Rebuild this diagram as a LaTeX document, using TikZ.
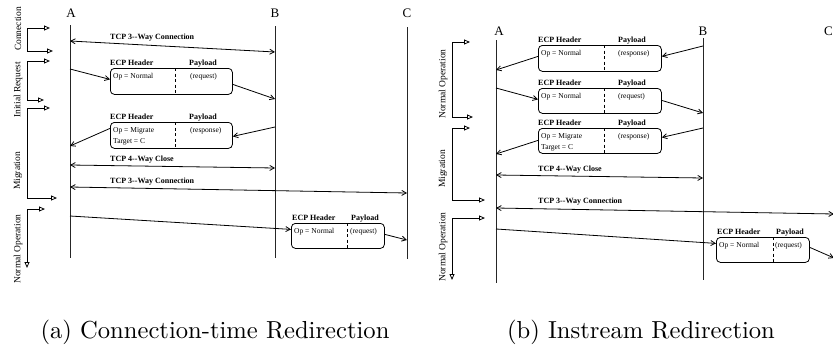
\documentclass[tikz,border=0pt]{standalone}
\usepackage{fontspec}
\newfontfamily\tms{Liberation Serif}
\usetikzlibrary{arrows.meta,calc}
\begin{document}
\begin{tikzpicture}[x=1pt,y=-1pt,
  life/.style={line width=0.9pt, black!85},
  msg/.style={line width=0.8pt, -{Straight Barb[length=4.5pt,width=5pt]}},
  dmsg/.style={line width=0.8pt, {Straight Barb[length=4.5pt,width=5pt]}-{Straight Barb[length=4.5pt,width=5pt]}},
  phase/.style={line width=0.8pt, {Triangle[open,length=6pt,width=5pt]}-{Triangle[open,length=6pt,width=5pt]}},
  ecp/.style={draw, line width=0.8pt, rounded corners=4pt, inner sep=0pt, anchor=north west},
  hdr/.style={font=\tms\fontsize{8}{9}\selectfont\bfseries, inner sep=0pt, anchor=base west},
  btxt/.style={font=\tms\fontsize{7.5}{11}\selectfont, inner sep=0pt, anchor=north west, align=left},
  plabel/.style={font=\tms\fontsize{9.5}{11}\selectfont, rotate=90, inner sep=0pt},
  lname/.style={font=\tms\fontsize{13}{14}\selectfont, inner sep=0pt},
  tcp/.style={font=\tms\fontsize{8}{9}\selectfont\bfseries, inner sep=0pt, anchor=base west},
  captxt/.style={scale=2.46, inner sep=0pt},
  divider/.style={dash pattern=on 3pt off 2.5pt, line width=0.8pt}]

\useasboundingbox (0,0) rectangle (833,348);

% ================= (a) =================
\node[lname] (nA) at (71,13) {A};
\node[lname] (nB) at (275,13) {B};
\node[lname] (nC) at (407,13) {C};
\coordinate (Atop) at (70,25); \coordinate (Abot) at (70,258);
\coordinate (Btop) at (275,26); \coordinate (Bbot) at (275,258);
\coordinate (Ctop) at (407,27); \coordinate (Cbot) at (407,259);
\draw[life] (Atop) -- (Abot);
\draw[life] (Btop) -- (Bbot);
\draw[life] (Ctop) -- (Cbot);

% TCP 3-way
\coordinate (ac1s) at (70,41); \coordinate (ac1e) at (275,52);
\draw[dmsg] (ac1s) -- (ac1e);
\node[tcp] (tac1) at (110,39.5) {TCP 3--Way Connection};

% box 1
\node[ecp, minimum width=122pt, minimum height=26pt] (a1) at (110,68) {};
\draw[divider] ([xshift=65pt]a1.north west) -- ([xshift=65pt]a1.south west);
\node[hdr] (a1h) at ([yshift=3pt]a1.north west) {ECP Header};
\node[hdr] (a1p) at ([shift={(79pt,3pt)}]a1.north west) {Payload};
\node[btxt] (a1t) at ([shift={(3pt,-5pt)}]a1.north west) {Op = Normal};
\node[btxt] (a1q) at ([shift={(80pt,-5pt)}]a1.north west) {(request)};
\coordinate (am1s) at (70,69); \coordinate (am2e) at (275,99);
\draw[msg] (am1s) -- ([yshift=2pt]a1.west);
\draw[msg] ([yshift=-3pt]a1.east) -- (am2e);

% box 2
\node[ecp, minimum width=122pt, minimum height=26pt] (a2) at (110,122) {};
\draw[divider] ([xshift=65pt]a2.north west) -- ([xshift=65pt]a2.south west);
\node[hdr] (a2h) at ([yshift=3pt]a2.north west) {ECP Header};
\node[hdr] (a2p) at ([shift={(79pt,3pt)}]a2.north west) {Payload};
\node[btxt] (a2t) at ([shift={(3pt,-5pt)}]a2.north west) {Op = Migrate\\Target = C};
\node[btxt] (a2q) at ([shift={(80pt,-5pt)}]a2.north west) {(response)};
\coordinate (am3s) at (275,127); \coordinate (am4e) at (70,146);
\draw[msg] (am3s) -- ([yshift=-1pt]a2.east);
\draw[msg] ([yshift=7pt]a2.west) -- (am4e);

% TCP 4-way close
\coordinate (acls) at (70,165); \coordinate (acle) at (275,168);
\draw[dmsg] (acls) -- (acle);
\node[tcp] (tacl) at (110,161.5) {TCP 4--Way Close};

% TCP 3-way to C
\coordinate (ac2s) at (70,187); \coordinate (ac2e) at (407,193);
\draw[dmsg] (ac2s) -- (ac2e);
\node[tcp] (tac2) at (110,183.5) {TCP 3--Way Connection};

% box 3
\node[ecp, minimum width=93pt, minimum height=25pt] (a3) at (291,223) {};
\draw[divider] ([xshift=56pt]a3.north west) -- ([xshift=56pt]a3.south west);
\node[hdr] (a3h) at ([shift={(1pt,3pt)}]a3.north west) {ECP Header};
\node[hdr] (a3p) at ([shift={(60pt,3pt)}]a3.north west) {Payload};
\node[btxt] (a3t) at ([shift={(3pt,-5pt)}]a3.north west) {Op = Normal};
\node[btxt] (a3q) at ([shift={(59pt,-5pt)}]a3.north west) {(request)};
\coordinate (am5s) at (70,216); \coordinate (am6e) at (407,240);
\draw[msg] (am5s) -- ([yshift=6.5pt]a3.west);
\draw[msg] ([yshift=1.5pt]a3.east) -- (am6e);

% phases (a)
\draw[phase] (50,28) -- (27,28) -- (27,51) -- (53,51);
\node[plabel] (pa1) at (18,29) {Connection};
\draw[phase] (50,61) -- (27,61) -- (27,100) -- (44,100);
\node[plabel] (pa2) at (18,90) {Initial Request};
\draw[phase] (50,108) -- (27,108) -- (27,198) -- (57,198);
\node[plabel] (pa3) at (18,171) {Migration};
\draw[phase] (45,209) -- (27,209) -- (27,268);
\node[plabel] (pa4) at (18,249) {Normal Operation};

% ================= (b) =================
\node[lname] (mA) at (499,31) {A};
\node[lname] (mB) at (703,31) {B};
\node[lname, anchor=east] (mC) at (833,31) {C};
\coordinate (A2top) at (496,40); \coordinate (A2bot) at (496,283);
\coordinate (B2top) at (703,38); \coordinate (B2bot) at (703,280);
\draw[life] (A2top) -- (A2bot);
\draw[life] (B2top) -- (B2bot);

% box 1
\node[ecp, minimum width=123pt, minimum height=26pt] (b1) at (538,45) {};
\draw[divider] ([xshift=66pt]b1.north west) -- ([xshift=66pt]b1.south west);
\node[hdr] (b1h) at ([yshift=3pt]b1.north west) {ECP Header};
\node[hdr] (b1p) at ([shift={(80pt,3pt)}]b1.north west) {Payload};
\node[btxt] (b1t) at ([shift={(3pt,-5pt)}]b1.north west) {Op = Normal};
\node[btxt] (b1q) at ([shift={(80pt,-5pt)}]b1.north west) {(response)};
\coordinate (bn1s) at (703,46); \coordinate (bn2e) at (496,70);
\draw[msg] (bn1s) -- ([yshift=2pt]b1.east);
\draw[msg] ([yshift=2pt]b1.west) -- (bn2e);

% box 2
\node[ecp, minimum width=123pt, minimum height=25pt] (b2) at (538,88) {};
\draw[divider] ([xshift=66pt]b2.north west) -- ([xshift=66pt]b2.south west);
\node[hdr] (b2h) at ([yshift=3pt]b2.north west) {ECP Header};
\node[hdr] (b2p) at ([shift={(80pt,3pt)}]b2.north west) {Payload};
\node[btxt] (b2t) at ([shift={(3pt,-5pt)}]b2.north west) {Op = Normal};
\node[btxt] (b2q) at ([shift={(80pt,-5pt)}]b2.north west) {(request)};
\coordinate (bn3s) at (496,88); \coordinate (bn4e) at (703,113);
\draw[msg] (bn3s) -- ([yshift=1.5pt]b2.west);
\draw[msg] ([yshift=0.5pt]b2.east) -- (bn4e);

% box 3
\node[ecp, minimum width=123pt, minimum height=25pt] (b3) at (538,128) {};
\draw[divider] ([xshift=66pt]b3.north west) -- ([xshift=66pt]b3.south west);
\node[hdr] (b3h) at ([yshift=3pt]b3.north west) {ECP Header};
\node[hdr] (b3p) at ([shift={(80pt,3pt)}]b3.north west) {Payload};
\node[btxt] (b3t) at ([shift={(3pt,-5pt)}]b3.north west) {Op = Migrate\\Target = C};
\node[btxt] (b3q) at ([shift={(80pt,-5pt)}]b3.north west) {(response)};
\coordinate (bn5s) at (703,128); \coordinate (bn6e) at (496,154);
\draw[msg] (bn5s) -- ([yshift=3.5pt]b3.east);
\draw[msg] ([yshift=0.5pt]b3.west) -- (bn6e);

% TCP 4-way close
\coordinate (bcls) at (496,175); \coordinate (bcle) at (703,178);
\draw[dmsg] (bcls) -- (bcle);
\node[tcp] (tbcl) at (538,171.5) {TCP 4--Way Close};

% TCP 3-way
\coordinate (bc2s) at (496,208); \coordinate (bc2e) at (834,214);
\draw[dmsg] (bc2s) -- (bc2e);
\node[tcp] (tbc2) at (538,203.5) {TCP 3--Way Connection};

% box 4
\node[ecp, minimum width=93pt, minimum height=25pt] (b4) at (716,237) {};
\draw[divider] ([xshift=57pt]b4.north west) -- ([xshift=57pt]b4.south west);
\node[hdr] (b4h) at ([shift={(1pt,3pt)}]b4.north west) {ECP Header};
\node[hdr] (b4p) at ([shift={(60pt,3pt)}]b4.north west) {Payload};
\node[btxt] (b4t) at ([shift={(3pt,-5pt)}]b4.north west) {Op = Normal};
\node[btxt] (b4q) at ([shift={(59pt,-5pt)}]b4.north west) {(request)};
\coordinate (bn7s) at (496,229); \coordinate (bn8e) at (834,258);
\draw[msg] (bn7s) -- ([yshift=6.5pt]b4.west);
\draw[msg] ([yshift=2.5pt]b4.east) -- (bn8e);

% phases (b)
\draw[phase] (470,42) -- (452,42) -- (452,117) -- (473,117);
\node[plabel] (pb1) at (443,84) {Normal Operation};
\draw[phase] (470,128) -- (452,128) -- (452,200) -- (485,200);
\node[plabel] (pb2) at (443,169) {Migration};
\draw[phase] (485,218) -- (452,218) -- (452,280);
\node[plabel] (pb3) at (443,247) {Normal Operation};

% captions
\node[captxt] (capa) at (215,332) {(a) Connection-time Redirection};
\node[captxt] (capb) at (641,332) {(b) Instream Redirection};
\end{tikzpicture}
\end{document}
